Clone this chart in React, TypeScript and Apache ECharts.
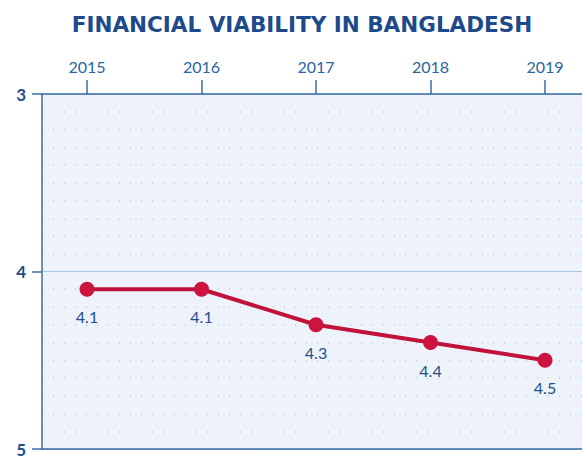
import React, { useEffect, useRef } from "react";
import * as echarts from "echarts";

const title = "FINANCIAL VIABILITY IN BANGLADESH";
const years = [2015, 2016, 2017, 2018, 2019];
const scores = [4.1, 4.1, 4.3, 4.4, 4.5];
const yTicks = [3, 4, 5];

export default function App() {
  const ref = useRef<HTMLDivElement>(null);
  useEffect(() => {
    document.body.style.margin = "0";
    if (!ref.current) return;
    const chart = echarts.init(ref.current, null, { renderer: "svg" });
    const blue = "#1f4e8c";
    const axisBlue = "#3a6ea5";
    chart.setOption({
      animation: false,
      title: {
        text: title,
        left: 297,
        textAlign: "center",
        top: 8,
        textStyle: { color: "#1d4a8a", fontSize: 21.5, fontWeight: "bold", fontFamily: "DejaVu Sans" },
      },
      grid: {
        left: 42,
        right: 0,
        top: 94,
        bottom: 9,
        show: true,
        backgroundColor: "#eef3fb",
        borderWidth: 0,
      },
      xAxis: [
        {
          type: "value",
          position: "top",
          min: 2014.607,
          max: 2019.323,
          splitLine: { show: false },
          axisLine: { show: true, lineStyle: { color: axisBlue, width: 1.5 } },
          axisTick: { show: true, length: 14, customValues: years, lineStyle: { color: axisBlue, width: 1.5 } },
          axisLabel: {
            customValues: years,
            formatter: (v: number) => String(Math.round(v)),
            color: "#2a64a0",
            fontSize: 16,
            fontFamily: "Lato",
            margin: 20,
          },
        },
        {
          type: "value",
          position: "bottom",
          min: 2014.607,
          max: 2019.323,
          splitLine: { show: false },
          axisLine: { show: true, onZero: false, lineStyle: { color: axisBlue, width: 1.5 } },
          axisTick: { show: false },
          axisLabel: { show: false },
        },
      ],
      yAxis: {
        type: "value",
        inverse: true,
        min: 3,
        max: 5,
        interval: 1,
        axisLine: { show: true, onZero: false, lineStyle: { color: axisBlue, width: 1.5 } },
        axisTick: { show: true, length: 10, lineStyle: { color: axisBlue, width: 1.5 } },
        axisLabel: {
          customValues: yTicks,
          color: blue,
          fontSize: 17,
          fontWeight: "bold",
          fontFamily: "Lato",
          margin: 16,
        },
        splitLine: { show: true, lineStyle: { color: "#a9c6e6", width: 1.2 } },
        minorTick: { show: false, splitNumber: 10 },
        minorSplitLine: { show: true, lineStyle: { color: "#b9c8db", width: 1.5, type: [1, 10] } },
      },
      series: [
        {
          type: "line",
          data: years.map((y, i) => [y, scores[i]]),
          xAxisIndex: 0,
          symbol: "circle",
          symbolSize: 15,
          itemStyle: { color: "#cc1441" },
          lineStyle: { color: "#c0123a", width: 4 },
          label: {
            show: true,
            position: "bottom",
            distance: 12,
            color: blue,
            fontSize: 16,
            fontFamily: "Lato",
            formatter: (p: any) => p.value[1].toFixed(1),
          },
        },
      ],
    });
    return () => chart.dispose();
  }, []);
  return <div ref={ref} style={{ width: 582, height: 458 }} />;
}
